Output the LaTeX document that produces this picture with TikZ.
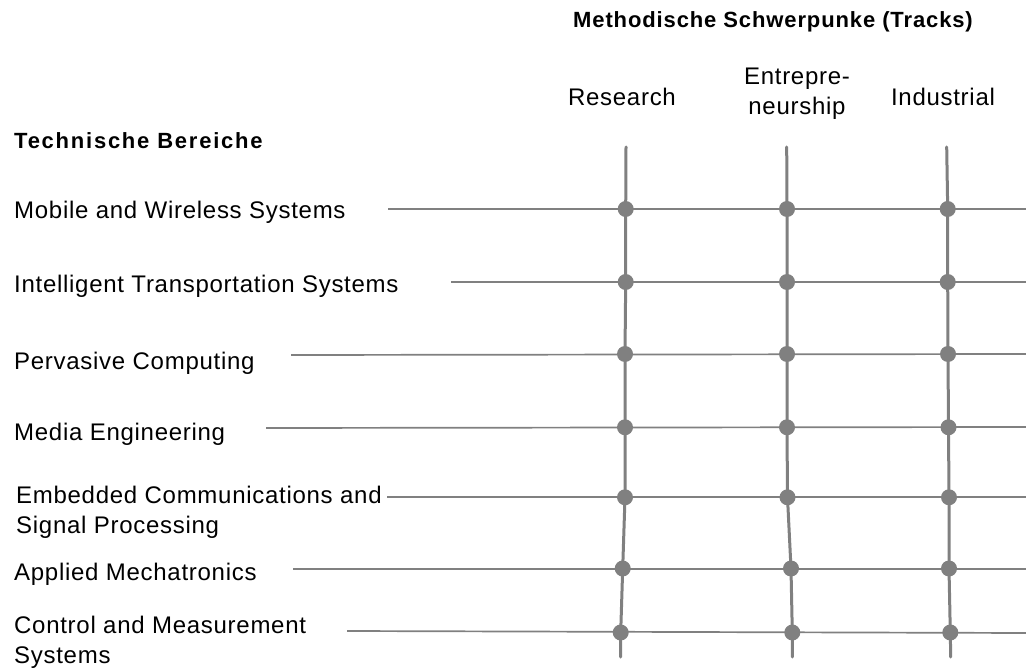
\documentclass[tikz,border=0pt]{standalone}
\usepackage{fontspec}
\setmainfont{Liberation Sans}
\newfontfamily\lblfont[LetterSpace=3]{Liberation Sans}
\newfontfamily\hdfontA[LetterSpace=4]{Liberation Sans}
\newfontfamily\hdfontB[LetterSpace=8]{Liberation Sans}
\definecolor{linegray}{HTML}{808080}
\begin{document}
\begin{tikzpicture}[x=1pt,y=-1pt,
  lbl/.style={font=\lblfont\fontsize{24}{30}\selectfont, inner sep=0, anchor=base west, align=left},
  trk/.style={font=\lblfont\fontsize{24}{30}\selectfont, inner sep=0, anchor=base, align=center},
  hline/.style={draw=linegray, line width=1.7},
  vline/.style={draw=linegray, line width=3, line cap=round},
  dotnode/.style={circle, fill=linegray, inner sep=0, minimum size=16}
]
\useasboundingbox (0,0) rectangle (1026,668);

% headers
\node[inner sep=0, anchor=base west, font=\hdfontA\bfseries\fontsize{22}{26}\selectfont] (mhead) at (573,28) {Methodische Schwerpunke (Tracks)};
\node[inner sep=0, anchor=base west, font=\hdfontB\bfseries\fontsize{22}{26}\selectfont] (thead) at (14,149) {Technische Bereiche};

% track labels
\node[trk] (tres) at (622,106) {Research};
\node[trk] (tent) at (797,115) {Entrepre-\\neurship};
\node[trk] (tind) at (943,106) {Industrial};

% area labels (multi-line: anchor at last baseline)
\node[lbl] (a1) at (14,219) {Mobile and Wireless Systems};
\node[lbl] (a2) at (14,293) {Intelligent Transportation Systems};
\node[lbl] (a3) at (14,370) {Pervasive Computing};
\node[lbl] (a4) at (14,440) {Media Engineering};
\node[lbl] (a5) at (16,533) {Embedded Communications and\\Signal Processing};
\node[lbl] (a6) at (14,580) {Applied Mechatronics};
\node[lbl] (a7) at (14,663) {Control and Measurement\\Systems};

% track end points
\coordinate (rt) at (626,147);  \coordinate (rb) at (620.5,657);
\coordinate (et) at (786.7,147); \coordinate (eb) at (792.3,657);
\coordinate (it) at (946.7,147); \coordinate (ib) at (950.7,657);

% crossing points and row line ends
\foreach \i/\ys/\ye/\y/\xr/\xe/\xi/\xs in {
  1/209/209/209/625.7/787/947.7/388,
  2/282/282/282/625.7/787/947.7/451,
  3/355/354/354/625/787/948/291,
  4/428/427/427.3/625/787/948.5/266,
  5/497/497/497.3/625/787.5/949/387,
  6/569/569/568.5/622.7/791/949/293,
  7/631/633/632.5/620.7/792.3/950.3/347}{
  \coordinate (r\i) at (\xr,\y);
  \coordinate (e\i) at (\xe,\y);
  \coordinate (n\i) at (\xi,\y);
  \coordinate (hs\i) at (\xs,\ys);
  \coordinate (he\i) at (1026,\ye);
}

% row lines
\foreach \i in {1,...,7}{
  \draw[hline] (hs\i) -- (he\i);
}

% track lines
\draw[vline] (rt) -- (r1) -- (r2) -- (r3) -- (r4) -- (r5) -- (r6) -- (r7) -- (rb);
\draw[vline] (et) -- (e1) -- (e2) -- (e3) -- (e4) -- (e5) -- (e6) -- (e7) -- (eb);
\draw[vline] (it) -- (n1) -- (n2) -- (n3) -- (n4) -- (n5) -- (n6) -- (n7) -- (ib);

% dots
\foreach \i in {1,...,7}{
  \node[dotnode] (dr\i) at (r\i) {};
  \node[dotnode] (de\i) at (e\i) {};
  \node[dotnode] (di\i) at (n\i) {};
}
\end{tikzpicture}
\end{document}
